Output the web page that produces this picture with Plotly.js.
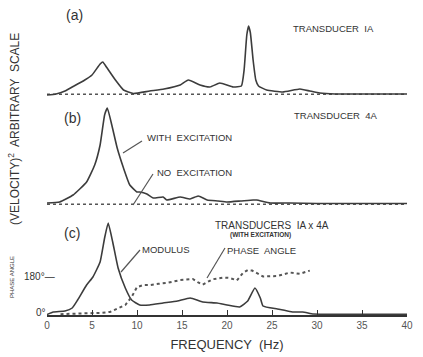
<!DOCTYPE html>
<html>
<head>
<meta charset="utf-8">
<script src="https://cdn.plot.ly/plotly-3.0.1.min.js"></script>
<style>html,body{margin:0;padding:0;background:#fff;}#chart{width:423px;height:357px;}</style>
</head>
<body>
<div id="chart"></div>
<script>
// Panel (a): transducer 1A
var aFreq = [0,1,2,2.8,4.2,5,5.9,6.2,6.6,7.6,8.5,9.6,11.4,13,14.8,15.7,17,18.1,19.2,20.7,21.6,21.9,22.2,22.4,22.6,22.9,23.2,23.5,24.4,26.2,28.1,29.2,30.3,32,36,40];
var aWith = [0,1,4,8,15,20,31,33,28,15,5,1.5,4,6,10,15,10,8,12,8,9,25,60,69,62,35,15,9,5,3,6,4,2,1,1,1];
var aNoFreq = [0,5,10,15,20,25,30,35,40];
var aNo = [0.8,0.8,0.8,0.8,0.8,0.8,0.8,0.8,0.8];
// Panel (b): transducer 4A
var bFreq = [0,1.4,2.9,4.4,5.3,5.9,6.4,6.7,7.2,7.8,8.5,9.2,10,10.3,11.1,11.8,12.9,13.3,14.8,15.9,16.8,17.8,19,20,21.5,22.9,23.3,24.8,27,30,35,40];
var bWith = [2,3,10,23,40,60,90,97,80,57,37,20,13,13,11,7,8,5,8,6,9,5,4,3,4,5,5,2,2,1.5,1.5,1.5];
var bNoFreq = [0,5,10,15,20,25,30,35,40];
var bNo = [0.8,0.8,0.8,0.8,0.8,0.8,0.8,0.8,0.8];
// Panel (c): cross spectrum 1A x 4A
var cFreq = [0,0.7,2,2.8,3.4,4.4,5.1,5.9,6.4,6.8,7.3,7.9,8.7,9.4,10.3,11.4,12.9,14.5,15.9,17.3,18.9,20,21.4,22.3,23.1,23.7,24,25.6,27.3,28.4,29.6,31,35,40];
var cModulus = [0.5,3,4,7,15,30,38,53,77,92,73,47,27,15,10,10,12,14,17,13,12,10,8,14,27,17,9,6,3,3,1,0.8,0.8,0.8];
var phaseFreq = [1.5,3,4,5,6,7,7.8,8.7,9.4,10,10.7,11.4,12.4,13.3,14.8,16.2,16.8,17.3,18.4,19.6,20.3,21.1,21.8,22.3,22.8,23.3,24,25.6,27,28.1,29.2];
var phaseDeg = [4,5,7,9,10,14,28,46,83,129,138,138,144,148,161,166,150,140,165,173,171,160,195,207,205,195,178,180,196,190,205];
var xTicks = [0,5,10,15,20,25,30,35,40];

var ink = '#3c3c3c';
var fnt = 'Liberation Sans, Arial, sans-serif';
function solid(x,y,ya){return {x:x,y:y,yaxis:ya,xaxis:'x',mode:'lines',line:{color:ink,width:1.6,shape:'spline',smoothing:0.4},hoverinfo:'none'};}
function dotted(x,y,ya,w){return {x:x,y:y,yaxis:ya,xaxis:'x',mode:'lines',line:{color:'#555',width:w,dash:'dot'},hoverinfo:'none'};}

var traces = [
  dotted(aNoFreq,aNo,'y',1.6), solid(aFreq,aWith,'y'),
  dotted(bNoFreq,bNo,'y2',1.6), solid(bFreq,bWith,'y2'),
  solid(cFreq,cModulus,'y3'), dotted(phaseFreq,phaseDeg,'y4',2)
];

// pixel helpers for layout placement
function px(x){return (x-47)/360;}
function py(y){return (315-y)/310;}
function txt(s,x,y,size,opt){var a={text:s,x:px(x),y:py(y),xref:'paper',yref:'paper',showarrow:false,xanchor:'left',yanchor:'middle',font:{family:fnt,size:size,color:'#333'}};if(opt){for(var k in opt)a[k]=opt[k];}return a;}
function seg(x0,y0,x1,y1){return {type:'line',xref:'paper',yref:'paper',x0:px(x0),y0:py(y0),x1:px(x1),y1:py(y1),line:{color:'#555',width:1.2}};}

var hidden = {visible:false,fixedrange:true};
var layout = {
  width:423,height:357,
  margin:{l:47,r:16,t:5,b:42},
  paper_bgcolor:'#fff',plot_bgcolor:'rgba(0,0,0,0)',
  showlegend:false,
  xaxis:{range:[0,40],anchor:'y3',showgrid:false,zeroline:false,showline:true,linecolor:'#333',linewidth:1.5,
    ticks:'inside',ticklen:5,tickcolor:'#333',tickvals:xTicks,ticktext:xTicks.map(String),
    tickfont:{family:fnt,size:10,color:'#555'},
    title:{text:'FREQUENCY  (Hz)',font:{family:fnt,size:13,color:'#333'},standoff:10}},
  yaxis:Object.assign({domain:[py(98),1],range:[-3,90],anchor:'x'},hidden),
  yaxis2:Object.assign({domain:[py(208),py(100)],range:[-3,105],anchor:'x'},hidden),
  yaxis3:Object.assign({domain:[0,py(215)],range:[0,100],anchor:'x'},hidden),
  yaxis4:Object.assign({domain:[0,py(215)],range:[0,461.5],anchor:'x',overlaying:'y3'},hidden),
  annotations:[
    txt('(a)',64,15,14),
    txt('TRANSDUCER  IA',291,28,9.5),
    txt('(b)',62,118,14),
    txt('TRANSDUCER  4A',292,115,9.5),
    txt('WITH  EXCITATION',145,137,9.5),
    txt('NO  EXCITATION',155,172,9.5),
    txt('(c)',62,233,14),
    txt('TRANSDUCERS  IA x 4A',213,225,10),
    txt('<b>(WITH EXCITATION)</b>',228,235,6.5),
    txt('MODULUS',140,249,9.5),
    txt('PHASE  ANGLE',225,250,9.5),
    txt('180°—',22,276,10),
    txt('0°',34,312,10),
    txt('PHASE ANGLE',12,277,6,{textangle:-90,xanchor:'center'}),
    txt('(VELOCITY)<sup>2</sup>  ARBITRARY  SCALE',14,129,12,{textangle:-90,xanchor:'center'})
  ],
  shapes:[
    seg(142,141,123,153),
    seg(153,174,133,205),
    seg(140,250,121,272),
    seg(225,248,207,278)
  ]
};
Plotly.newPlot('chart',traces,layout,{staticPlot:true,displayModeBar:false});
</script>
</body>
</html>
